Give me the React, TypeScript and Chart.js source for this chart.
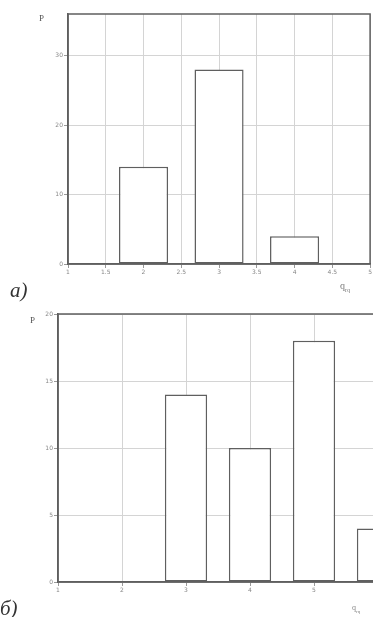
import React, { useEffect, useRef } from "react";
import { Chart, registerables } from "chart.js";
Chart.register(...registerables);

// Chart a)
const catsA = [2, 3, 4];
const valsA = [14, 28, 4];
const xTicksA = [1, 1.5, 2, 2.5, 3, 3.5, 4, 4.5, 5];
const yTicksA = [0, 10, 20, 30];
// Chart б)
const catsB = [3, 4, 5, 6];
const valsB = [14, 10, 18, 4];
const xTicksB = [1, 2, 3, 4, 5, 6];
const yTicksB = [0, 5, 10, 15, 20];

const ink = "#5f5f5f";
const gridC = "#d4d4d4";

const framePlugin = {
  id: "frame",
  afterDatasetsDraw(chart: any) {
    const { ctx, chartArea: a } = chart;
    ctx.save();
    ctx.strokeStyle = ink;
    ctx.lineWidth = 1.5;
    ctx.strokeRect(a.left, a.top, a.right - a.left, a.bottom - a.top);
    ctx.restore();
  },
};

function makeConfig(o: {
  cats: number[]; vals: number[]; xTicks: number[]; yTicks: number[]; catPct: number;
  xMin: number; xMax: number; yMax: number; leftW: number; bottomH: number; top: number; right: number;
}): any {
  return {
    type: "bar",
    data: {
      datasets: [
        {
          data: o.cats.map((c, i) => ({ x: c, y: o.vals[i] })),
          backgroundColor: "#ffffff",
          borderColor: ink,
          borderWidth: 1.5,
          borderSkipped: false,
          barPercentage: 1,
          categoryPercentage: o.catPct,
        },
      ],
    },
    options: {
      animation: false,
      responsive: false,
      maintainAspectRatio: false,
      layout: { padding: { top: o.top, right: o.right, left: 0, bottom: 0 } },
      plugins: { legend: { display: false }, tooltip: { enabled: false } },
      scales: {
        x: {
          type: "linear",
          offset: false,
          min: o.xMin,
          max: o.xMax,
          afterBuildTicks: (s: any) => { s.ticks = o.xTicks.map((v) => ({ value: v })); },
          afterFit: (s: any) => { s.height = o.bottomH; },
          grid: { color: gridC, lineWidth: 1, tickLength: 4, tickColor: "#999", offset: false },
          border: { color: ink, width: 1.5 },
          ticks: {
            color: "#888", font: { size: 6, family: "DejaVu Sans" }, padding: 1, maxRotation: 0, autoSkip: false,
            callback: (v: any) => String(v),
          },
        },
        y: {
          min: 0,
          max: o.yMax,
          afterBuildTicks: (s: any) => { s.ticks = o.yTicks.map((v) => ({ value: v })); },
          afterFit: (s: any) => { s.width = o.leftW; },
          grid: { color: gridC, lineWidth: 1, tickLength: 4, tickColor: "#999" },
          border: { color: ink, width: 1.5 },
          ticks: { color: "#888", font: { size: 6, family: "DejaVu Sans" }, padding: 1, callback: (v: any) => String(v) },
        },
      },
    },
    plugins: [framePlugin],
  };
}

function ChartCanvas(props: { cfg: any; w: number; h: number; left: number; top: number }) {
  const ref = useRef<HTMLCanvasElement>(null);
  useEffect(() => {
    const c = new Chart(ref.current as HTMLCanvasElement, props.cfg);
    return () => c.destroy();
  }, []);
  return (
    <canvas
      ref={ref}
      width={props.w}
      height={props.h}
      style={{ position: "absolute", left: props.left, top: props.top, width: props.w, height: props.h }}
    />
  );
}

const serif = "'Liberation Serif', 'DejaVu Serif', serif";

export default function App() {
  const cfgA = makeConfig({
    cats: catsA, vals: valsA, xTicks: xTicksA, yTicks: yTicksA, catPct: 1.3,
    xMin: 1, xMax: 5, yMax: 36, leftW: 68, bottomH: 36, top: 14, right: 1,
  });
  const cfgB = makeConfig({
    cats: catsB, vals: valsB, xTicks: xTicksB, yTicks: yTicksB, catPct: 0.66,
    xMin: 1, xMax: 6.5, yMax: 20, leftW: 58, bottomH: 35, top: 14, right: 1,
  });
  return (
    <div style={{ position: "fixed", left: 0, top: 0, width: 373, height: 617, overflow: "hidden", background: "#fff" }}>
      <ChartCanvas cfg={cfgA} w={373} h={300} left={0} top={0} />
      <ChartCanvas cfg={cfgB} w={411} h={317} left={0} top={300} />
      <div style={{ position: "absolute", left: 39, top: 13, font: `9px ${serif}`, color: "#555" }}>P</div>
      <div style={{ position: "absolute", left: 30, top: 315, font: `9px ${serif}`, color: "#555" }}>P</div>
      <div style={{ position: "absolute", left: 10, top: 278, font: `italic 21px ${serif}`, color: "#333" }}>a)</div>
      <div style={{ position: "absolute", left: 0, top: 596, font: `italic 21px ${serif}`, color: "#333" }}>б)</div>
      <div style={{ position: "absolute", left: 340, top: 280, font: `10px ${serif}`, color: "#777" }}>
        q<sub style={{ fontSize: 6 }}>rq</sub>
      </div>
      <div style={{ position: "absolute", left: 352, top: 603, font: `8px ${serif}`, color: "#888" }}>
        q<sub style={{ fontSize: 5 }}>rq</sub>
      </div>
    </div>
  );
}
